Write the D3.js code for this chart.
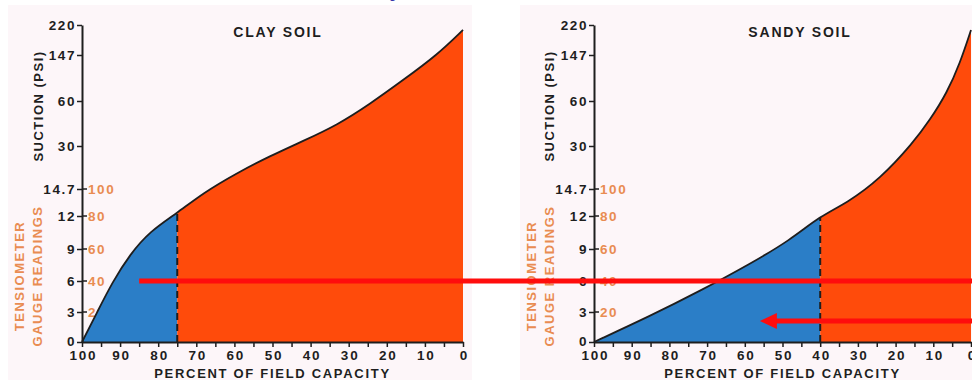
<!DOCTYPE html>
<html>
<head>
<meta charset="utf-8">
<script src="https://cdn.jsdelivr.net/npm/d3@7"></script>
<style>
  html, body { margin: 0; padding: 0; background: #ffffff; }
  svg { display: block; }
  text { font-family: "Liberation Sans", Arial, Helvetica, sans-serif; font-weight: bold; }
</style>
</head>
<body>
<svg id="chart" width="972" height="380"></svg>
<script>
// ---------------- DATA ----------------
const suctionTicks = [0, 3, 6, 9, 12, 14.7, 30, 60, 147, 220];
const suctionTickLabels = ["0", "3", "6", "9", "12", "14.7", "30", "60", "147", "220"];
const gaugeTicks = [3, 6, 9, 12, 14.7];
const gaugeTickLabels = ["20", "40", "60", "80", "100"];
const percentTicks = [100, 95, 90, 85, 80, 75, 70, 65, 60, 55, 50, 45, 40, 35, 30, 25, 20, 15, 10, 5, 0];

// clay soil curve: percent of field capacity vs suction (psi)
const clayPercent = [100, 96, 92, 87.4, 82.2, 75, 68.2, 59.3, 50.7, 42, 33, 24.4, 15.7, 6.8, 0];
const claySuction = [0, 3, 5.9, 8.5, 10.6, 12.3, 14.3, 20.4, 26.4, 33.3, 44, 58, 99.7, 147, 208];
const clayBreak = 75;

// sandy soil curve
const sandyPercent = [100, 85.1, 71.9, 58.6, 48, 40, 32.9, 24.1, 15.4, 10.9, 6.4, 2.9, 0];
const sandySuction = [0, 2.6, 5.03, 7.6, 9.8, 12, 13.3, 18.3, 32, 47.3, 75.1, 131.9, 208];
const sandyBreak = 40;

const panelTitles = ["CLAY SOIL", "SANDY SOIL"];
const xAxisTitle = "PERCENT OF FIELD CAPACITY";
const yAxisTitle = "SUCTION (PSI)";
const gaugeTitle = ["TENSIOMETER", "GAUGE READINGS"];

// annotation arrows
const arrowLongSuction = 6;     // starts in clay panel at this percent
const arrowLongStartPct = 85;
const arrowShortSuction = 2.1;  // points into sandy panel at this percent
const arrowShortTipPct = 56;

// ---------------- STYLE ----------------
const W = 972, H = 380;
const BLUE = "#2b7ec7", ORANGE = "#ff4b0b", RED = "#ff0d0d";
const PANEL_BG = "#fdf6f9", INK = "#1e1e1e", GAUGE_INK = "#e98c52";

const svg = d3.select("#chart");

// shared suction scale (piecewise, as in the original chart)
const y = d3.scaleLinear()
  .domain(suctionTicks)
  .range([342, 312, 281, 249, 216, 189, 146, 101, 55, 25]);

const panels = [
  { bg: [8, 5, 464, 375], x100: 82, x0: 463, title: panelTitles[0], titleX: 278,
    pct: clayPercent, psi: claySuction, brk: clayBreak,
    yTitleX: 38, tensX: 19, gaugeX: 37, id: "clay" },
  { bg: [520, 5, 460, 375], x100: 594, x0: 971, title: panelTitles[1], titleX: 800,
    pct: sandyPercent, psi: sandySuction, brk: sandyBreak,
    yTitleX: 549, tensX: 531, gaugeX: 549, id: "sandy" }
];

const defs = svg.append("defs");
const scales = {};

panels.forEach(p => {
  const x = d3.scaleLinear().domain([100, 0]).range([p.x100, p.x0]);
  scales[p.id] = x;
  const g = svg.append("g");

  g.append("rect")
    .attr("x", p.bg[0]).attr("y", p.bg[1])
    .attr("width", p.bg[2]).attr("height", p.bg[3])
    .attr("fill", PANEL_BG);

  // gauge labels (under fills)
  gaugeTicks.forEach((v, i) => {
    g.append("line")
      .attr("x1", x(100)).attr("x2", x(100) + 5)
      .attr("y1", y(v)).attr("y2", y(v))
      .attr("stroke", INK).attr("stroke-width", 1.5);
    g.append("text")
      .attr("x", x(100) + 6).attr("y", y(v)).attr("dy", "0.36em")
      .attr("fill", GAUGE_INK).attr("font-size", 13.5).attr("letter-spacing", 1.6)
      .text(gaugeTickLabels[i]);
  });

  const pts = p.pct.map((d, i) => ({ p: d, v: p.psi[i] }));
  const area = d3.area()
    .x(d => x(d.p)).y0(y(0)).y1(d => y(d.v))
    .curve(d3.curveBasis);
  const line = d3.line()
    .x(d => x(d.p)).y(d => y(d.v))
    .curve(d3.curveBasis);

  const xb = x(p.brk);
  defs.append("clipPath").attr("id", p.id + "-blue")
    .append("rect").attr("x", x(100)).attr("y", 0).attr("width", xb - x(100)).attr("height", H);
  defs.append("clipPath").attr("id", p.id + "-orange")
    .append("rect").attr("x", xb).attr("y", 0).attr("width", x(0) - xb).attr("height", H);
  defs.append("clipPath").attr("id", p.id + "-area")
    .append("path").datum(pts).attr("d", area);

  g.append("path").datum(pts).attr("d", area)
    .attr("fill", BLUE).attr("clip-path", `url(#${p.id}-blue)`);
  g.append("path").datum(pts).attr("d", area)
    .attr("fill", ORANGE).attr("clip-path", `url(#${p.id}-orange)`);

  // dashed divider, clipped to the area under the curve
  g.append("line")
    .attr("x1", xb).attr("x2", xb)
    .attr("y1", y(0)).attr("y2", y(d3.max(p.psi)))
    .attr("stroke", INK).attr("stroke-width", 2).attr("stroke-dasharray", "7,4")
    .attr("clip-path", `url(#${p.id}-area)`);

  g.append("path").datum(pts).attr("d", line)
    .attr("fill", "none").attr("stroke", INK).attr("stroke-width", 1.8);

  // axes
  const yAxis = d3.axisLeft(y)
    .tickValues(suctionTicks)
    .tickFormat((d, i) => suctionTickLabels[i])
    .tickSize(5).tickSizeOuter(0).tickPadding(1);
  const ya = g.append("g").attr("transform", `translate(${x(100)},0)`).call(yAxis);
  ya.select(".domain").attr("stroke", INK).attr("stroke-width", 2);
  ya.selectAll(".tick line").attr("stroke", INK).attr("stroke-width", 1.5);
  ya.selectAll(".tick text").attr("fill", INK).attr("font-size", 13.5)
    .attr("letter-spacing", 1.6).attr("font-family", "Liberation Sans, Arial, sans-serif")
    .attr("font-weight", "bold");
  ya.selectAll(".tick text").filter(d => d === 0).attr("dy", "0.25em");

  const xAxis = d3.axisBottom(x)
    .tickValues(percentTicks)
    .tickFormat(d => d % 10 === 0 ? d : "")
    .tickSize(5).tickSizeOuter(0).tickPadding(3);
  const xa = g.append("g").attr("transform", `translate(0,${y(0)})`).call(xAxis);
  xa.select(".domain").attr("stroke", INK).attr("stroke-width", 2);
  xa.selectAll(".tick line").attr("stroke", INK).attr("stroke-width", 1.5);
  xa.selectAll(".tick text").attr("fill", INK).attr("font-size", 13.5)
    .attr("letter-spacing", 1.8).attr("dx", "0.07em")
    .attr("font-family", "Liberation Sans, Arial, sans-serif").attr("font-weight", "bold");

  // titles
  g.append("text").attr("x", p.titleX).attr("y", 37).attr("text-anchor", "middle")
    .attr("fill", INK).attr("font-size", 14).attr("letter-spacing", 1.8)
    .text(p.title);
  g.append("text").attr("x", (x(100) + x(0)) / 2).attr("y", 378).attr("text-anchor", "middle")
    .attr("fill", INK).attr("font-size", 13).attr("letter-spacing", 1.7)
    .text(xAxisTitle);
  g.append("text")
    .attr("transform", `translate(${p.yTitleX + 5},${y(60) + 5}) rotate(-90)`)
    .attr("text-anchor", "middle").attr("fill", INK).attr("font-size", 13)
    .attr("letter-spacing", 1.5).text(yAxisTitle);
  g.append("text")
    .attr("transform", `translate(${p.tensX + 5},${y(6) - 5}) rotate(-90)`)
    .attr("text-anchor", "middle").attr("fill", GAUGE_INK).attr("font-size", 13)
    .attr("letter-spacing", 1.5).text(gaugeTitle[0]);
  g.append("text")
    .attr("transform", `translate(${p.gaugeX + 5},${y(6) - 5}) rotate(-90)`)
    .attr("text-anchor", "middle").attr("fill", GAUGE_INK).attr("font-size", 13)
    .attr("letter-spacing", 1.5).text(gaugeTitle[1]);
});

// stray caption fragment at the very top
svg.append("text").attr("x", 389).attr("y", -2).attr("fill", "#3434a8")
  .attr("font-size", 12).attr("font-weight", "normal").text("g");

// arrows
const xc = scales.clay, xs = scales.sandy;
svg.append("line")
  .attr("x1", xc(arrowLongStartPct)).attr("x2", W)
  .attr("y1", y(arrowLongSuction)).attr("y2", y(arrowLongSuction))
  .attr("stroke", RED).attr("stroke-width", 5);

const tipX = xs(arrowShortTipPct), tipY = y(arrowShortSuction);
svg.append("line")
  .attr("x1", tipX + 12).attr("x2", W)
  .attr("y1", tipY).attr("y2", tipY)
  .attr("stroke", RED).attr("stroke-width", 5);
svg.append("path")
  .attr("d", `M${tipX},${tipY} L${tipX + 17},${tipY - 8} L${tipX + 17},${tipY + 8} Z`)
  .attr("fill", RED);
</script>
</body>
</html>
